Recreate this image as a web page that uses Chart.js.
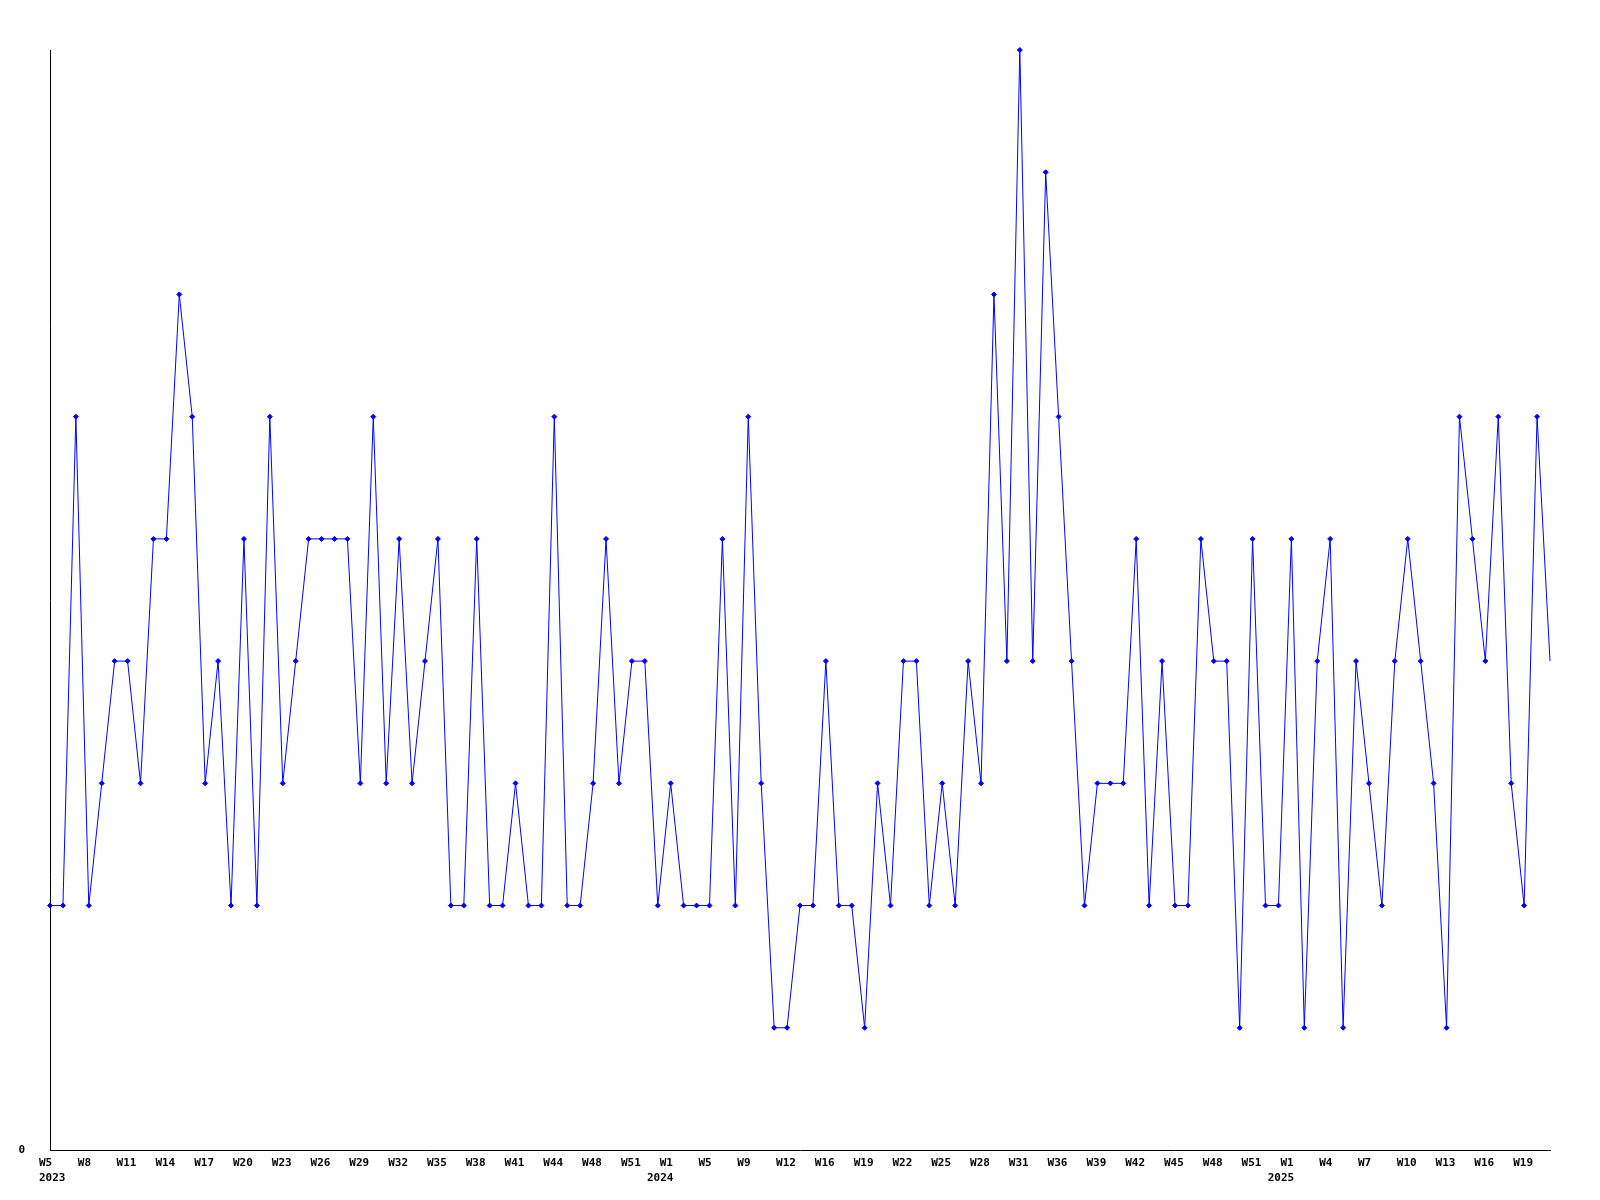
<!DOCTYPE html>
<html>
<head>
<meta charset="utf-8">
<script src="https://cdn.jsdelivr.net/npm/chart.js@4.4.0/dist/chart.umd.min.js"></script>
<style>
  html, body { margin: 0; padding: 0; background: #fff; }
  #wrap { width: 1600px; height: 1200px; }
</style>
</head>
<body>
<div id="wrap"><canvas id="myChart" width="1600" height="1200"></canvas></div>
<script>
// semanas (categorias) - só uma em cada 3 aparece no eixo
var weeks2023 = ["W5","W6","W7","W8","W9","W10","W11","W12","W13","W14","W15","W16","W17","W18","W19","W20",
  "W21","W22","W23","W24","W25","W26","W27","W28","W29","W30","W31","W32","W33","W34","W35","W36","W37","W38",
  "W39","W40","W41","W42","W43","W44","W45","W46","W48","W49","W50","W51","W52","W53"];
var weeks2024 = ["W1","W2","W4","W5","W6","W8","W9","W10","W11","W12","W13","W15","W16","W17","W18","W19",
  "W20","W21","W22","W23","W24","W25","W26","W27","W28","W29","W30","W31","W33","W35","W36","W37","W38","W39",
  "W40","W41","W42","W43","W44","W45","W46","W47","W48","W49","W50","W51","W52","W53"];
var weeks2025 = ["W1","W2","W3","W4","W5","W6","W7","W8","W9","W10","W11","W12","W13","W14","W15","W16",
  "W17","W18","W19","W20","W21"];
var years = ["2023", "2024", "2025"];

var valores = [2,2,6,2,3,4,4,3,5,5,7,6,3,4,2,5,2,6,3,4,5,5,5,5,3,6,3,5,3,4,5,2,2,5,2,2,3,2,2,6,
  2,2,3,5,3,4,4,2,3,2,2,2,5,2,6,3,1,1,2,2,4,2,2,1,3,2,4,4,2,3,2,4,3,7,4,9,4,8,6,4,
  2,3,3,3,5,2,4,2,2,5,4,4,1,5,2,2,5,1,4,5,1,4,3,2,4,5,4,3,1,6,5,4,6,3,2,6,4];

var labels = weeks2023.concat(weeks2024, weeks2025);
// índice onde começa cada ano
var yearStart = [0, weeks2023.length, weeks2023.length + weeks2024.length];

// último ponto sem marcador (como no original)
var raios = valores.map(function (v, i) { return i === valores.length - 1 ? 0 : 2.5; });

var fonte = { family: 'DejaVu Sans Mono', size: 11, weight: 'bold' };

// escreve o ano por baixo da primeira semana de cada ano
var anosPlugin = {
  id: 'anos',
  afterDraw: function (chart) {
    var x = chart.scales.x;
    var c = chart.ctx;
    c.save();
    c.font = 'bold 11px "DejaVu Sans Mono"';
    c.fillStyle = '#000';
    c.textBaseline = 'middle';
    var minLeft = x.getPixelForValue(0) - 11;
    yearStart.forEach(function (idx, k) {
      var w = c.measureText(years[k]).width;
      var left = x.getPixelForValue(idx) - 10.5 - w / 2;
      if (left < minLeft) left = minLeft;
      c.textAlign = 'left';
      c.fillText(years[k], left, 1178);
    });
    c.restore();
  }
};

var ctx = document.getElementById("myChart");
var myChart = new Chart(ctx, {
  type: 'line',
  data: {
    labels: labels,
    datasets: [{
      data: valores,
      borderColor: '#0000ff',
      backgroundColor: '#0000ff',
      borderWidth: 1,
      tension: 0,
      fill: false,
      pointStyle: 'rectRot',
      pointRadius: raios,
      pointBorderWidth: 1,
      clip: false
    }]
  },
  plugins: [anosPlugin],
  options: {
    responsive: false,
    animation: false,
    events: [],
    layout: { padding: { top: 50, right: 50, left: 0, bottom: 0 } },
    plugins: { legend: { display: false }, tooltip: { enabled: false } },
    scales: {
      x: {
        offset: false,
        grid: { display: false, drawTicks: false },
        border: { display: true, color: '#000', width: 1 },
        ticks: {
          autoSkip: false,
          maxRotation: 0,
          minRotation: 0,
          align: 'start',
          labelOffset: -11,
          padding: 7,
          color: '#000',
          font: fonte,
          callback: function (value, index) {
            return index % 3 === 0 ? labels[index] : '';
          }
        },
        afterFit: function (scale) { scale.height = 50; }
      },
      y: {
        min: 0,
        max: 9,
        grid: { display: false, drawTicks: false },
        border: { display: true, color: '#000', width: 1 },
        ticks: {
          stepSize: 1,
          padding: 25,
          color: '#000',
          font: fonte,
          callback: function (v) { return v === 0 ? '0' : ''; }
        },
        afterFit: function (scale) { scale.width = 50; }
      }
    }
  }
});
</script>
</body>
</html>
